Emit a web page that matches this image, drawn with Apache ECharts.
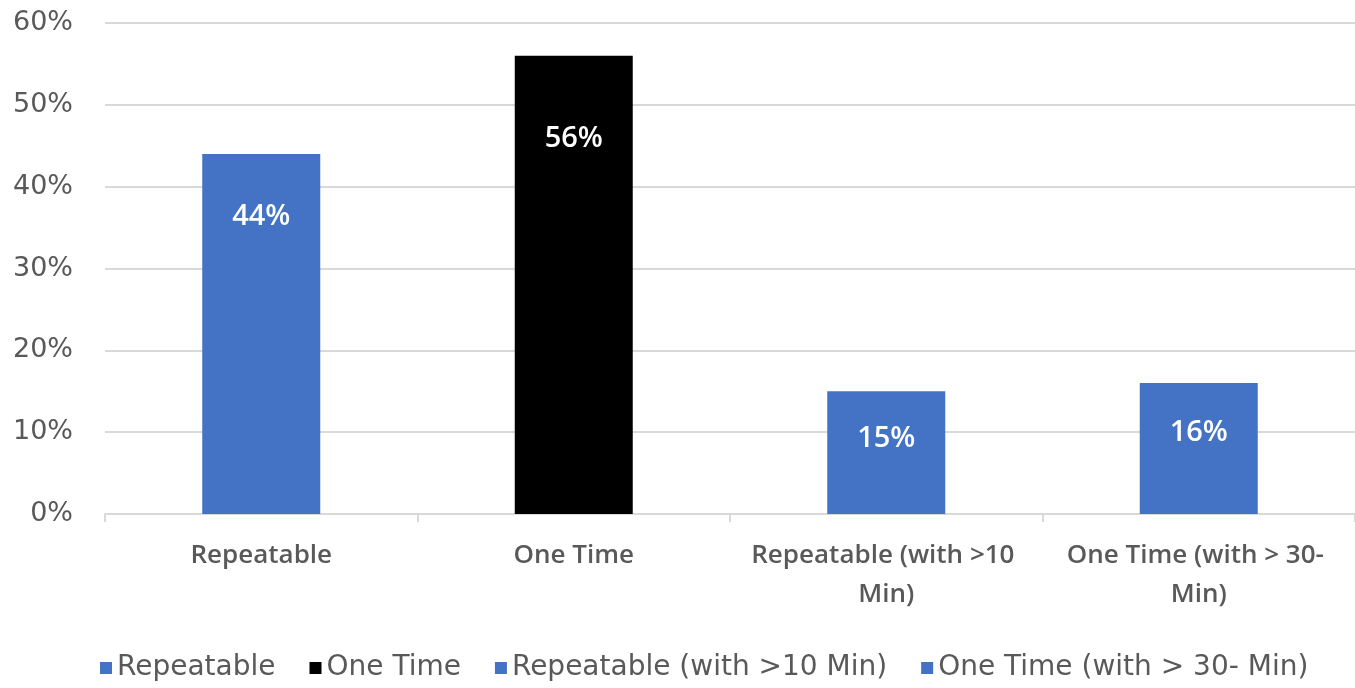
<!DOCTYPE html>
<html>
<head>
<meta charset="utf-8">
<script src="https://cdn.jsdelivr.net/npm/echarts@6/dist/echarts.min.js"></script>
<style>
  html, body { margin: 0; padding: 0; background: #ffffff; }
  #chart { width: 1355px; height: 688px; }
</style>
</head>
<body>
<div id="chart"></div>
<script>
// Share of sessions by type (percent)
const categories = ['Repeatable', 'One Time', 'Repeatable (with >10 Min)', 'One Time (with > 30- Min)'];
const seriesNames = ['Repeatable', 'One Time', 'Repeatable (with >10 Min)', 'One Time (with > 30- Min)'];
const values = [44, 56, 15, 16];
const colors = ['#4472C4', '#000000', '#4472C4', '#4472C4'];
const labelDistances = [48, 69, 33, 35];
const yTicks = [0, 10, 20, 30, 40, 50, 60];

const font = '"Open Sans", "Liberation Sans", sans-serif';
const wideFont = '"DejaVu Sans", "Open Sans", sans-serif';
const textColor = '#595959';

// one series per category so each gets its own legend entry; stacking keeps bars centred
const series = seriesNames.map((name, i) => ({
  name: name,
  type: 'bar',
  stack: 'all',
  barWidth: 118,
  itemStyle: { color: colors[i] },
  label: {
    show: true,
    position: 'insideTop',
    distance: labelDistances[i],
    color: '#ffffff',
    fontFamily: font,
    fontSize: 29,
    fontWeight: 600,
    formatter: p => p.value + '%'
  },
  data: categories.map((c, j) => (j === i ? values[i] : null))
}));

const chart = echarts.init(document.getElementById('chart'), null, { renderer: 'canvas' });
chart.setOption({
  animation: false,
  grid: { left: 105, right: 0, top: 23, bottom: 174, containLabel: false },
  legend: {
    bottom: 1,
    left: 95,
    itemWidth: 12,
    itemHeight: 12,
    itemGap: 34,
    icon: 'rect',
    textStyle: { color: textColor, fontFamily: wideFont, fontSize: 28 },
    data: seriesNames
  },
  xAxis: {
    type: 'category',
    data: categories,
    axisLine: { lineStyle: { color: '#D9D9D9', width: 2 } },
    axisTick: { show: true, length: 8, lineStyle: { color: '#D9D9D9', width: 2 } },
    axisLabel: {
      color: textColor,
      fontFamily: font,
      fontSize: 26,
      fontWeight: 600,
      margin: 22,
      lineHeight: 39,
      width: 290,
      overflow: 'break',
      interval: 0
    }
  },
  yAxis: {
    type: 'value',
    min: yTicks[0],
    max: yTicks[yTicks.length - 1],
    interval: 10,
    axisLine: { show: false },
    axisTick: { show: false },
    splitLine: { lineStyle: { color: '#D9D9D9', width: 2 } },
    axisLabel: {
      color: textColor,
      fontFamily: wideFont,
      fontSize: 27,
      margin: 32,
      formatter: v => v + '%'
    }
  },
  series: series
});
</script>
</body>
</html>
